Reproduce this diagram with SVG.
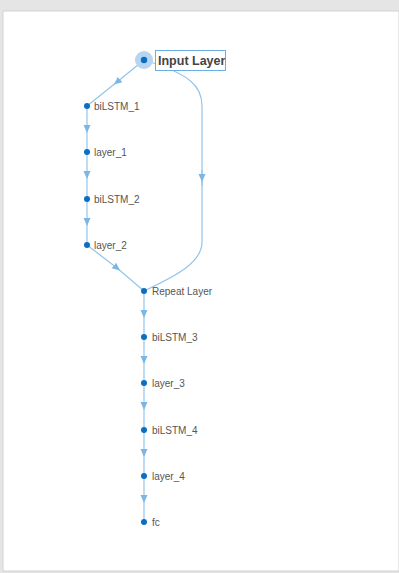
<svg xmlns="http://www.w3.org/2000/svg" width="399" height="573" viewBox="0 0 399 573">
<defs>
<marker id="arr" markerWidth="8" markerHeight="8" refX="4" refY="3.5" orient="auto" markerUnits="userSpaceOnUse" viewBox="0 0 8 7">
<path d="M0,0 L8,3.5 L0,7 Z" fill="#7cb6e4"/>
</marker>
<style>
.e{fill:none;stroke:#92c5ec;stroke-width:1.2;marker-mid:url(#arr)}
.c{fill:none;stroke:#92c5ec;stroke-width:1.2}
.d{fill:#0a6fc2}
.t{font-family:"Liberation Sans",Arial,sans-serif;font-size:10px;fill:#555}
</style>
</defs>
<rect x="0" y="0" width="399" height="573" fill="#e5e5e5"/>
<rect x="3" y="11" width="396" height="560" fill="#ffffff" stroke="#d2d2d2" stroke-width="1"/>
<g id="connectors">
<path class="e" d="M144,60 L117,82 L87,106"/>
<path class="c" d="M144,60 C190,74 202,86 202,106 L202,242 C202,262 178,275 144,291"/>
<path class="e" d="M202,170 L202,178 L202,186"/>
<path class="e" d="M87,106 L87,129 L87,152"/>
<path class="e" d="M87,152 L87,175 L87,199"/>
<path class="e" d="M87,199 L87,222 L87,245"/>
<path class="e" d="M87,245 L117,268 L144,291"/>
<path class="e" d="M144,291 L144,314 L144,337"/>
<path class="e" d="M144,337 L144,360 L144,383"/>
<path class="e" d="M144,383 L144,406 L144,430"/>
<path class="e" d="M144,430 L144,453 L144,476"/>
<path class="e" d="M144,476 L144,499 L144,522"/>
</g>
<g id="input">
<circle cx="144" cy="60" r="9" fill="#b5d5f0"/>
<circle class="d" cx="144" cy="60" r="3.2"/>
<rect x="155.5" y="50.5" width="70" height="20" fill="#fff" stroke="#6aaee6" stroke-width="1"/>
<text x="158" y="65" font-family="Liberation Sans,Arial,sans-serif" font-size="12.5" font-weight="bold" fill="#444">Input Layer</text>
</g>
<g id="biLSTM_1"><circle class="d" cx="87" cy="106" r="3"/><text class="t" x="94" y="110">biLSTM_1</text></g>
<g id="layer_1"><circle class="d" cx="87" cy="152" r="3"/><text class="t" x="94" y="156">layer_1</text></g>
<g id="biLSTM_2"><circle class="d" cx="87" cy="199" r="3"/><text class="t" x="94" y="203">biLSTM_2</text></g>
<g id="layer_2"><circle class="d" cx="87" cy="245" r="3"/><text class="t" x="94" y="249">layer_2</text></g>
<g id="repeat"><circle class="d" cx="144" cy="291" r="3"/><text class="t" x="152" y="295">Repeat Layer</text></g>
<g id="biLSTM_3"><circle class="d" cx="144" cy="337" r="3"/><text class="t" x="152" y="341">biLSTM_3</text></g>
<g id="layer_3"><circle class="d" cx="144" cy="383" r="3"/><text class="t" x="152" y="387">layer_3</text></g>
<g id="biLSTM_4"><circle class="d" cx="144" cy="430" r="3"/><text class="t" x="152" y="434">biLSTM_4</text></g>
<g id="layer_4"><circle class="d" cx="144" cy="476" r="3"/><text class="t" x="152" y="480">layer_4</text></g>
<g id="fc"><circle class="d" cx="144" cy="522" r="3"/><text class="t" x="152" y="526">fc</text></g>
</svg>
